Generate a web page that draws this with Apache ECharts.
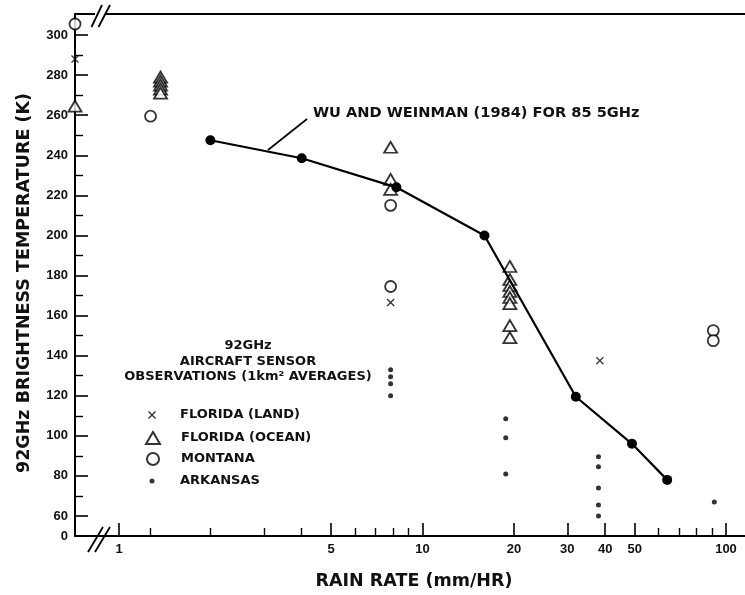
<!DOCTYPE html>
<html>
<head>
<meta charset="utf-8">
<script src="https://cdn.jsdelivr.net/npm/echarts@6/dist/echarts.min.js"></script>
<style>
html,body{margin:0;padding:0;background:#fff;}
#c{width:745px;height:595px;}
</style>
</head>
<body>
<div id="c"></div>
<script>
// ---- data (rain rate mm/hr, brightness temperature K); rate 0 = plotted at the axis break ----
const lineRate = [2, 4, 8.2, 16, 32, 49, 64];
const lineTemp = [247.5, 238.5, 224, 200, 119.5, 96, 78];

const landRate = [0, 7.85, 38.4];
const landTemp = [288, 166.5, 137.5];

const oceanRate = [0, 1.37, 1.37, 1.37, 1.37, 1.37, 7.85, 7.85, 7.85, 19.4, 19.4, 19.4, 19.4, 19.4, 19.4, 19.4, 19.4];
const oceanTemp = [264.5, 279, 277, 275, 273, 271, 244, 228, 223, 184.5, 178, 175, 172, 169, 166, 155, 149];

const montanaRate = [0, 1.27, 7.85, 7.85, 90.8, 90.8];
const montanaTemp = [305.5, 259.5, 215, 174.5, 152.5, 147.5];

const arkRate = [7.85, 7.85, 7.85, 7.85, 18.8, 18.8, 18.8, 38, 38, 38, 38, 38, 91.5];
const arkTemp = [133, 129.5, 126, 120, 108.5, 99, 81, 89.5, 84.5, 74, 65.5, 60, 67];

// ---- ticks / labels ----
const xMajorTicks = [1, 5, 10, 20, 30, 40, 50, 100];
const xMinorTicks = [1.27, 2, 3, 4, 6, 7, 8, 9, 60, 70, 80, 90];
const yMajorTicks = [60, 80, 100, 120, 140, 160, 180, 200, 220, 240, 260, 280, 300];
const yMinorTicks = [70, 90, 110, 130, 150, 170, 190, 210, 230, 250, 270, 290];
const yBreakLabel = '0';

const names = ['FLORIDA (LAND)', 'FLORIDA (OCEAN)', 'MONTANA', 'ARKANSAS'];
const curveLabel = 'WU AND WEINMAN (1984) FOR 85 5GHz';
const noteLines = ['92GHz', 'AIRCRAFT SENSOR', 'OBSERVATIONS (1km\u00B2 AVERAGES)'];
const xTitle = 'RAIN RATE (mm/HR)';
const yTitle = '92GHz BRIGHTNESS TEMPERATURE (K)';

// ---- axis ranges ----
const X_MIN = 0.716, X_MAX = 115.5;
const Y_MIN = 50, Y_MAX = 310.5;

const pair = (rs, ts) => rs.map((r, i) => [r === 0 ? X_MIN : r, ts[i]]);

const INK = '#111';
const FONT = 'DejaVu Sans';
const crossPath = 'path://M0,1.2L1.2,0L5,3.8L8.8,0L10,1.2L6.2,5L10,8.8L8.8,10L5,6.2L1.2,10L0,8.8L3.8,5Z';

function legendFor(name, w, h, cy) {
  return {
    data: [name], orient: 'vertical', selectedMode: false, padding: 0,
    left: 152 - w / 2, top: cy - 8, itemWidth: w, itemHeight: h,
    textStyle: { color: INK, fontFamily: FONT, fontWeight: 'bold', fontSize: 13, lineHeight: 16, padding: [0, 0, 0, 23 - w / 2] }
  };
}

const axisTextX = { color: INK, fontFamily: 'Liberation Sans', fontWeight: 'bold', fontSize: 13 };
const noteFont = 'bold 13px "DejaVu Sans"';

const option = {
  backgroundColor: '#fff',
  animation: false,
  grid: { left: 75, right: 0, top: 14, bottom: 58, containLabel: false },
  legend: [
    legendFor(names[0], 8, 8, 415),
    legendFor(names[1], 14, 12, 438),
    legendFor(names[2], 12, 12, 459),
    legendFor(names[3], 5, 5, 481)
  ],
  xAxis: [
    {
      type: 'log', logBase: 10, min: X_MIN, max: X_MAX, position: 'bottom',
      name: xTitle, nameLocation: 'middle', nameGap: 36,
      nameTextStyle: { color: INK, fontFamily: FONT, fontWeight: 'bold', fontSize: 17.5, padding: [0, 0, 0, 8] },
      axisLine: { show: true, lineStyle: { color: '#000', width: 2 } },
      axisTick: { show: true, inside: true, length: 13, customValues: xMajorTicks, lineStyle: { color: '#000', width: 1.6 } },
      axisLabel: { show: true, customValues: xMajorTicks, margin: 7, ...axisTextX, formatter: v => String(v) },
      splitLine: { show: false }, minorTick: { show: false }
    },
    {
      type: 'log', logBase: 10, min: X_MIN, max: X_MAX, position: 'bottom',
      axisLine: { show: false },
      axisTick: { show: true, inside: true, length: 8, customValues: xMinorTicks, lineStyle: { color: '#000', width: 1.4 } },
      axisLabel: { show: false }, splitLine: { show: false }
    }
  ],
  yAxis: [
    {
      type: 'value', min: Y_MIN, max: Y_MAX, position: 'left',
      name: yTitle, nameLocation: 'middle', nameGap: 42, nameRotate: 90,
      nameTextStyle: { color: INK, fontFamily: FONT, fontWeight: 'bold', fontSize: 17.5, padding: [0, 16, 0, 0] },
      axisLine: { show: true, lineStyle: { color: '#000', width: 2 } },
      axisTick: { show: true, inside: true, length: 13, customValues: yMajorTicks, lineStyle: { color: '#000', width: 1.6 } },
      axisLabel: { show: true, customValues: [Y_MIN].concat(yMajorTicks), margin: 7, ...axisTextX,
        formatter: v => (v === Y_MIN ? yBreakLabel : String(v)) },
      splitLine: { show: false }
    },
    {
      type: 'value', min: Y_MIN, max: Y_MAX, position: 'left',
      axisLine: { show: false },
      axisTick: { show: true, inside: true, length: 8, customValues: yMinorTicks, lineStyle: { color: '#000', width: 1.4 } },
      axisLabel: { show: false }, splitLine: { show: false }
    }
  ],
  series: [
    {
      name: names[3], type: 'scatter', symbol: 'circle', symbolSize: 5,
      itemStyle: { color: '#000' }, data: pair(arkRate, arkTemp), z: 2
    },
    {
      name: names[2], type: 'scatter', symbol: 'circle', symbolSize: 11,
      itemStyle: { color: '#fff', borderColor: '#000', borderWidth: 1.8 }, data: pair(montanaRate, montanaTemp), z: 2
    },
    {
      name: names[1], type: 'scatter', symbol: 'triangle', symbolSize: [13, 11],
      itemStyle: { color: '#fff', borderColor: '#000', borderWidth: 1.8 }, data: pair(oceanRate, oceanTemp), z: 2
    },
    {
      name: names[0], type: 'scatter', symbol: crossPath, symbolSize: 8,
      itemStyle: { color: '#000' }, data: pair(landRate, landTemp), z: 2
    },
    {
      name: 'WU AND WEINMAN (1984)', type: 'line', symbol: 'circle', symbolSize: 10, showSymbol: true,
      lineStyle: { color: '#000', width: 2.2 }, itemStyle: { color: '#000' },
      data: pair(lineRate, lineTemp), z: 5
    }
  ],
  graphic: [
    // top frame line with break
    { type: 'line', shape: { x1: 75, y1: 14, x2: 95, y2: 14 }, style: { stroke: '#000', lineWidth: 2 } },
    { type: 'line', shape: { x1: 106, y1: 14, x2: 745, y2: 14 }, style: { stroke: '#000', lineWidth: 2 } },
    { type: 'line', shape: { x1: 91.5, y1: 27, x2: 102, y2: 5 }, style: { stroke: '#000', lineWidth: 1.8 } },
    { type: 'line', shape: { x1: 98.5, y1: 27, x2: 110, y2: 5 }, style: { stroke: '#000', lineWidth: 1.8 } },
    // bottom axis break
    { type: 'line', shape: { x1: 88, y1: 552, x2: 103, y2: 527 }, style: { stroke: '#000', lineWidth: 1.8 } },
    { type: 'line', shape: { x1: 95, y1: 552, x2: 110, y2: 527 }, style: { stroke: '#000', lineWidth: 1.8 } },
    // curve annotation
    { type: 'line', shape: { x1: 307, y1: 119, x2: 268, y2: 150 }, style: { stroke: '#000', lineWidth: 1.6 } },
    { type: 'text', x: 313, y: 113, style: { text: curveLabel, fill: INK, font: 'bold 14.6px "DejaVu Sans"', align: 'left', verticalAlign: 'middle' } },
    // observations note
    { type: 'text', x: 248, y: 346, style: { text: noteLines[0], fill: INK, font: noteFont, align: 'center', verticalAlign: 'middle' } },
    { type: 'text', x: 248, y: 362, style: { text: noteLines[1], fill: INK, font: noteFont, align: 'center', verticalAlign: 'middle' } },
    { type: 'text', x: 248, y: 377, style: { text: noteLines[2], fill: INK, font: noteFont, align: 'center', verticalAlign: 'middle' } }
  ]
};

const chart = echarts.init(document.getElementById('c'));
chart.setOption(option);
</script>
</body>
</html>
